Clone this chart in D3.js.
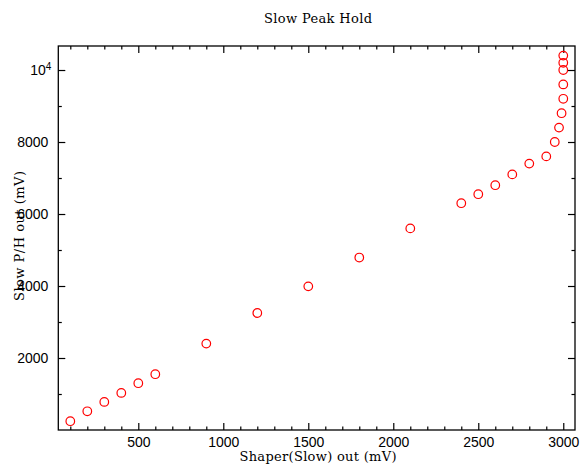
<!DOCTYPE html>
<html lang="en">
  <head>
    <meta charset="utf-8"/>
    <title>Slow Peak Hold</title>
    <script src="https://d3js.org/d3.v7.min.js"></script>
    <style>
      body { margin: 0; background: #fff; }
      .tick text { font-family: "Liberation Sans", Arial, sans-serif; font-size: 14px; fill: #000; }
      .domain { display: none; }
      .tick line { stroke: #000; stroke-width: 1.2; }
      .ttl { font-family: "DejaVu Serif", "Liberation Serif", serif; font-size: 13px; fill: #000; }
    </style>
  </head>
  <body>
    <div id="chart"></div>
    <script>
    // shaper (slow) output vs slow peak/hold output, both in mV
    var shaperOut = [100, 200, 300, 400, 500, 600, 900, 1200, 1500, 1800, 2100,
                     2400, 2500, 2600, 2700, 2800, 2900, 2950, 2975, 2990,
                     3000, 3000, 3000, 3000, 3000];
    var peakHoldOut = [245, 520, 780, 1030, 1300, 1550, 2400, 3250, 3990, 4790, 5600,
                       6300, 6550, 6800, 7100, 7400, 7600, 8000, 8400, 8800,
                       9200, 9600, 10000, 10200, 10400];
    var xMajor = [500, 1000, 1500, 2000, 2500, 3000];
    var yMajor = [2000, 4000, 6000, 8000, 10000];

    var width = 582, height = 467;
    // frame edges (note: "top" is a reserved window property, so use pad names)
    var padL = 58.3, padR = 575, padT = 46, padB = 430;

    var svg = d3.select("#chart").append("svg")
        .attr("width", width)
        .attr("height", height);

    var x = d3.scaleLinear().domain([29.4, 3069]).range([padL, padR]);
    var y = d3.scaleLinear().domain([0, 10667]).range([padB, padT]);

    var xMinor = d3.range(100, 3001, 100).filter(function(v){ return xMajor.indexOf(v) < 0; });
    var yMinor = d3.range(1000, 10001, 1000).filter(function(v){ return yMajor.indexOf(v) < 0; });

    // minor ticks on all four sides
    svg.append("g").attr("transform", "translate(0," + padB + ")")
      .call(d3.axisBottom(x).tickValues(xMinor).tickSize(-3.5).tickFormat(""));
    svg.append("g").attr("transform", "translate(0," + padT + ")")
      .call(d3.axisTop(x).tickValues(xMinor).tickSize(-3.5).tickFormat(""));
    svg.append("g").attr("transform", "translate(" + padL + ",0)")
      .call(d3.axisLeft(y).tickValues(yMinor).tickSize(-3.5).tickFormat(""));
    svg.append("g").attr("transform", "translate(" + padR + ",0)")
      .call(d3.axisRight(y).tickValues(yMinor).tickSize(-3.5).tickFormat(""));

    // major ticks, labelled bottom and left
    svg.append("g").attr("transform", "translate(0," + padB + ")")
      .call(d3.axisBottom(x).tickValues(xMajor).tickSize(-7).tickPadding(7).tickFormat(d3.format("d")));
    svg.append("g").attr("transform", "translate(0," + padT + ")")
      .call(d3.axisTop(x).tickValues(xMajor).tickSize(-7).tickFormat(""));
    var yAxis = svg.append("g").attr("transform", "translate(" + padL + ",0)")
      .call(d3.axisLeft(y).tickValues(yMajor).tickSize(-7).tickPadding(10).tickFormat(d3.format("d")));
    svg.append("g").attr("transform", "translate(" + padR + ",0)")
      .call(d3.axisRight(y).tickValues(yMajor).tickSize(-7).tickFormat(""));

    yAxis.selectAll(".tick text").each(function(d) {
      if (d === 10000) {
        var t = d3.select(this);
        t.text("10").attr("x", -7);
        t.append("tspan").attr("dy", "-0.45em").style("font-size", "10px").text("4");
      }
    });

    // frame
    svg.append("rect")
      .attr("x", padL).attr("y", padT)
      .attr("width", padR - padL).attr("height", padB - padT)
      .attr("fill", "none").attr("stroke", "#000").attr("stroke-width", 1.3);

    // points
    svg.append("g").selectAll("circle")
      .data(shaperOut)
      .join("circle")
        .attr("cx", function(d){ return x(d); })
        .attr("cy", function(d, i){ return y(peakHoldOut[i]); })
        .attr("r", 4.3)
        .attr("fill", "none")
        .attr("stroke", "#ff0000")
        .attr("stroke-width", 1.2);

    // titles
    svg.append("text").attr("class", "ttl")
      .attr("x", 318).attr("y", 23)
      .attr("text-anchor", "middle")
      .attr("textLength", 108)
      .text("Slow Peak Hold");
    svg.append("text").attr("class", "ttl")
      .attr("x", 318).attr("y", 461)
      .attr("text-anchor", "middle")
      .attr("textLength", 157)
      .text("Shaper(Slow) out (mV)");
    svg.append("text").attr("class", "ttl")
      .attr("transform", "translate(24,236) rotate(-90)")
      .attr("text-anchor", "middle")
      .attr("textLength", 130)
      .text("Slow P/H out (mV)");
    </script>
  </body>
</html>
